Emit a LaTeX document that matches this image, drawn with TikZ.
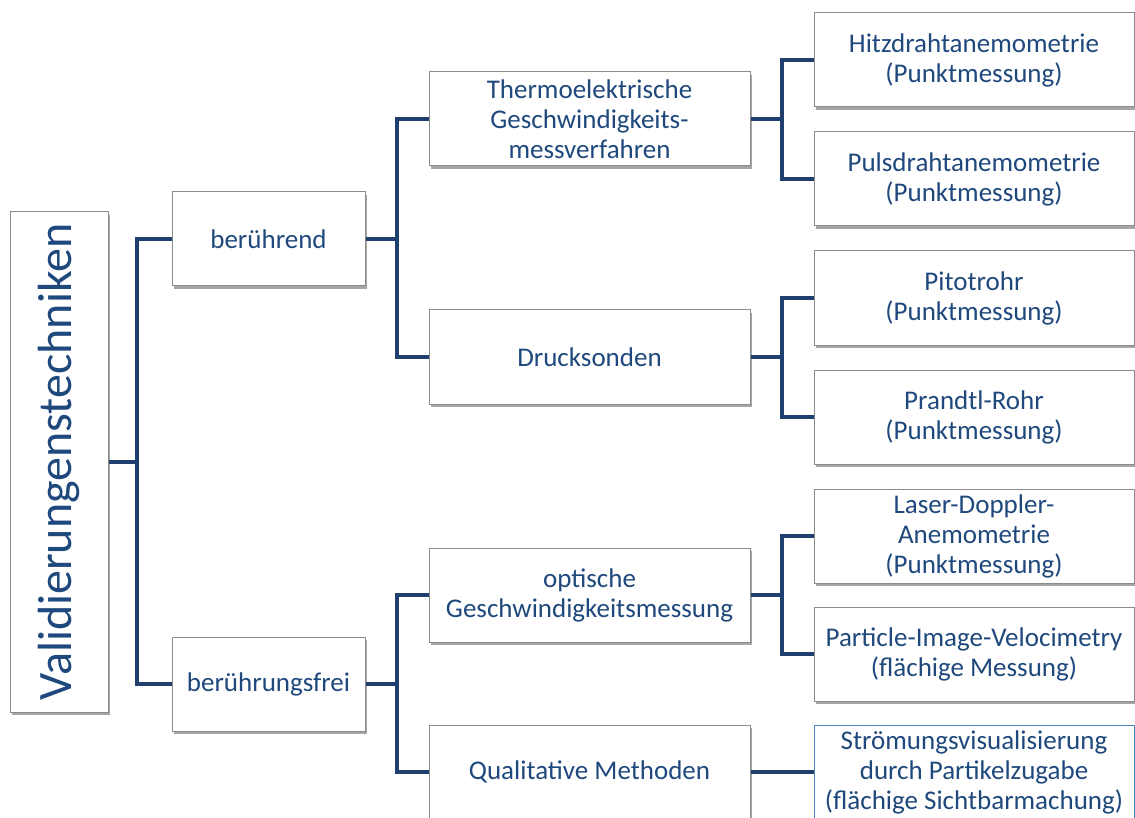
\documentclass[tikz,border=0pt]{standalone}
\usepackage{fontspec}
\setmainfont{Carlito}
\usetikzlibrary{shadows}
\definecolor{textblue}{HTML}{1F497D}
\definecolor{linkblue}{HTML}{1F3F6F}
\definecolor{boxgray}{HTML}{8C8C8C}
\definecolor{selblue}{HTML}{4F81BD}
\begin{document}
\begin{tikzpicture}[x=1pt, y=-1pt,
  box/.style={draw=boxgray, line width=1pt, fill=white, text=textblue, align=center,
    font=\fontsize{27}{30}\selectfont, inner sep=0pt, minimum height=94pt,
    drop shadow={shadow xshift=2pt, shadow yshift=-3pt, opacity=0.35, fill=black}},
  level1/.style={box, minimum width=193pt},
  level2/.style={box, minimum width=321pt},
  level3/.style={box, minimum width=320pt},
  link/.style={draw=linkblue, line width=4pt}]
\clip (0,0) rectangle (1135,818);
% root
\node[box, minimum width=98pt, minimum height=500pt, font=\fontsize{48}{50}\selectfont] (root) at (59,462) {\rotatebox{90}{Validierungenstechniken}};
% first level
\node[level1] (b1) at (268.5,239) {berührend};
\node[level1] (b2) at (268.5,684) {berührungsfrei};
% second level
\node[level2] (t1) at (589.5,119) {Thermoelektrische\\Geschwindigkeits-\\messverfahren};
\node[level2] (t2) at (589.5,357) {Drucksonden};
\node[level2] (t3) at (589.5,595) {optische\\Geschwindigkeitsmessung};
\node[level2] (t4) at (589.5,772) {Qualitative Methoden};
% third level
\node[level3] (m1) at (974,60) {Hitzdrahtanemometrie\\(Punktmessung)};
\node[level3] (m2) at (974,179) {Pulsdrahtanemometrie\\(Punktmessung)};
\node[level3] (m3) at (974,298) {Pitotrohr\\(Punktmessung)};
\node[level3] (m4) at (974,417) {Prandtl-Rohr\\(Punktmessung)};
\node[level3] (m5) at (974,536) {Laser-Doppler-\\Anemometrie\\(Punktmessung)};
\node[level3] (m6) at (974,654) {Particle-Image-Velocimetry\\(flächige Messung)};
\node[level3, draw=selblue] (m7) at (974,772) {Strömungsvisualisierung\\durch Partikelzugabe\\(flächige Sichtbarmachung)};
% junctions
\coordinate (j0) at (137,462);
\coordinate (j1) at (397,239);
\coordinate (j2) at (397,684);
\coordinate (j3) at (782,119);
\coordinate (j4) at (782,357);
\coordinate (j5) at (782,595);
% connectors
\draw[link] (root) -- (j0);
\draw[link] (b1) -| (j0) |- (b2);
\draw[link] (b1) -- (j1);
\draw[link] (t1) -| (j1) |- (t2);
\draw[link] (b2) -- (j2);
\draw[link] (t3) -| (j2) |- (t4);
\draw[link] (t1) -- (j3);
\draw[link] (m1) -| (j3) |- (m2);
\draw[link] (t2) -- (j4);
\draw[link] (m3) -| (j4) |- (m4);
\draw[link] (t3) -- (j5);
\draw[link] (m5) -| (j5) |- (m6);
\draw[link] (t4) -- (m7);
\end{tikzpicture}
\end{document}
